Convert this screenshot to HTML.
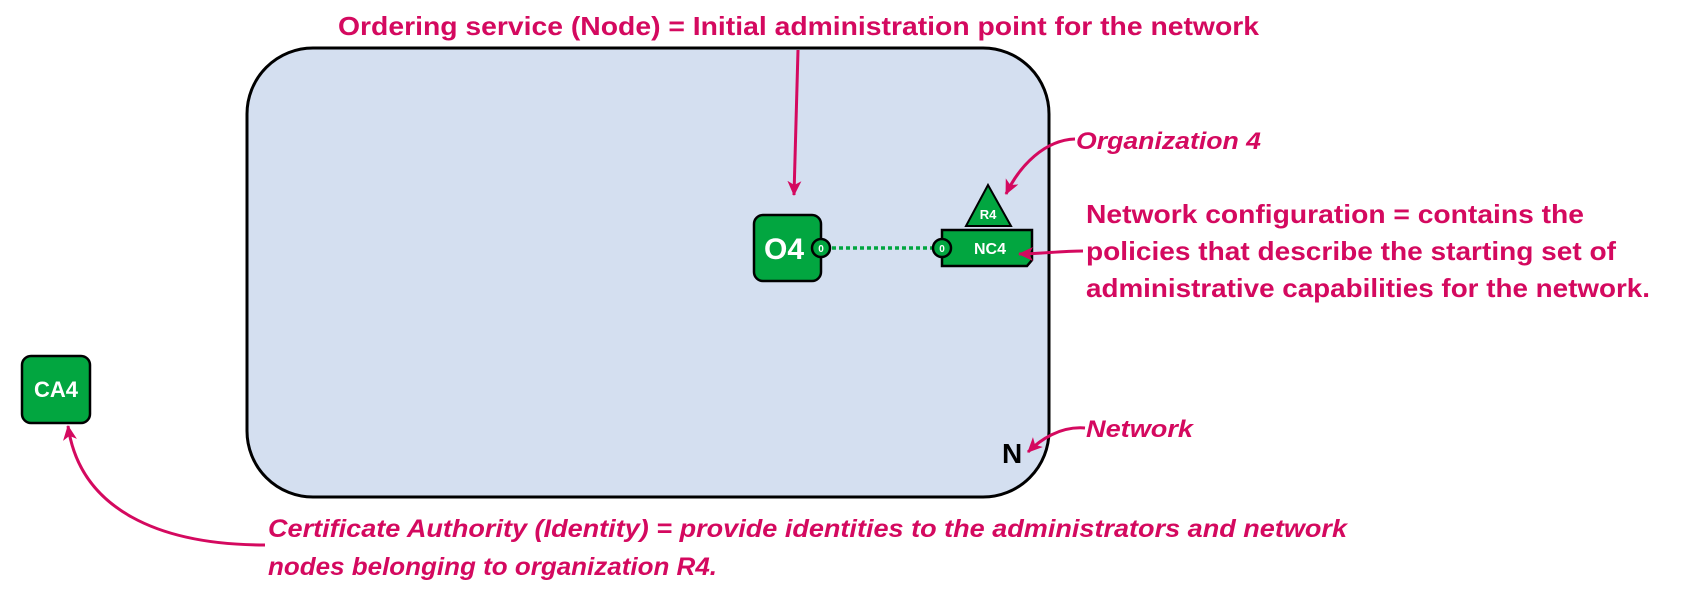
<!DOCTYPE html>
<html><head><meta charset="utf-8"><style>
html,body{margin:0;padding:0;background:#fff;}
svg{display:block;}
text{font-family:"Liberation Sans",sans-serif;font-weight:bold;}
.m{fill:#d4095f;}
.w{fill:#fff;}
</style></head><body>
<svg width="1682" height="594" viewBox="0 0 1682 594" xmlns="http://www.w3.org/2000/svg">
<defs>
<marker id="ah" markerWidth="18" markerHeight="18" refX="14" refY="8" orient="auto" markerUnits="userSpaceOnUse">
<path d="M0,1 L15,8 L0,15 L4,8 Z" fill="#d4095f"/>
</marker>
</defs>
<rect x="247" y="48" width="802" height="449" rx="66" ry="66" fill="#d4dff0" stroke="#000" stroke-width="3"/>
<text class="m" x="338" y="35" font-size="26" textLength="921" lengthAdjust="spacingAndGlyphs">Ordering service (Node) = Initial administration point for the network</text>
<path d="M798,50 L794,195" stroke="#d4095f" stroke-width="3" fill="none" marker-end="url(#ah)"/>
<rect x="754" y="215" width="67" height="66" rx="9" fill="#02a640" stroke="#000" stroke-width="2.5"/>
<text class="w" x="784" y="259" font-size="30" text-anchor="middle">O4</text>
<circle cx="821" cy="248" r="9" fill="#02a640" stroke="#000" stroke-width="2.5"/>
<text class="w" x="821" y="252" font-size="10" text-anchor="middle">0</text>
<line x1="832" y1="248" x2="932" y2="248" stroke="#02a640" stroke-width="3.5" stroke-dasharray="4,3"/>
<path d="M942,230 L1032,230 L1032,260 L1027,266 L942,266 Z" fill="#02a640" stroke="#000" stroke-width="2.5"/>
<circle cx="942" cy="248" r="9" fill="#02a640" stroke="#000" stroke-width="2.5"/>
<text class="w" x="942" y="252" font-size="10" text-anchor="middle">0</text>
<text class="w" x="990" y="254" font-size="16" text-anchor="middle">NC4</text>
<path d="M988,185 L1011,226 L966,226 Z" fill="#02a640" stroke="#000" stroke-width="2"/>
<text class="w" x="988" y="219" font-size="13" text-anchor="middle">R4</text>
<text class="m" x="1076" y="149" font-size="24" font-style="italic" textLength="185" lengthAdjust="spacingAndGlyphs">Organization 4</text>
<path d="M1075,139 C1045,140 1020,165 1006,194" stroke="#d4095f" stroke-width="3" fill="none" marker-end="url(#ah)"/>
<text class="m" font-size="26">
<tspan x="1086" y="223" textLength="498" lengthAdjust="spacingAndGlyphs">Network configuration = contains the</tspan>
<tspan x="1086" y="260" textLength="530" lengthAdjust="spacingAndGlyphs">policies that describe the starting set of</tspan>
<tspan x="1086" y="297" textLength="564" lengthAdjust="spacingAndGlyphs">administrative capabilities for the network.</tspan>
</text>
<path d="M1083,251 C1060,251 1040,254 1019,254" stroke="#d4095f" stroke-width="3" fill="none" marker-end="url(#ah)"/>
<text x="1002" y="463" font-size="28" fill="#000">N</text>
<text class="m" x="1086" y="437" font-size="24" font-style="italic" textLength="107" lengthAdjust="spacingAndGlyphs">Network</text>
<path d="M1085,428 C1060,426 1040,440 1028,452" stroke="#d4095f" stroke-width="3" fill="none" marker-end="url(#ah)"/>
<rect x="22" y="356" width="68" height="67" rx="9" fill="#02a640" stroke="#000" stroke-width="2.5"/>
<text class="w" x="56" y="397" font-size="22" text-anchor="middle">CA4</text>
<path d="M265,545 C160,545 80,510 68,426" stroke="#d4095f" stroke-width="3" fill="none" marker-end="url(#ah)"/>
<text class="m" font-size="25" font-style="italic">
<tspan x="268" y="537" textLength="1079" lengthAdjust="spacingAndGlyphs">Certificate Authority (Identity) = provide identities to the administrators and network</tspan>
<tspan x="268" y="575" textLength="449" lengthAdjust="spacingAndGlyphs">nodes belonging to organization R4.</tspan>
</text>
</svg>
</body></html>
